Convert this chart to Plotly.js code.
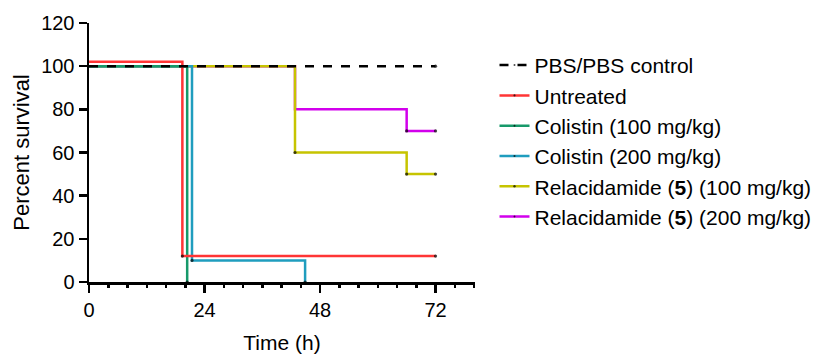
<!DOCTYPE html>
<html>
<head>
<meta charset="utf-8">
<script src="https://cdn.plot.ly/plotly-3.0.1.min.js"></script>
<style>html,body{margin:0;padding:0;background:#fff;}#chart{width:816px;height:354px;}</style>
</head>
<body>
<div id="chart"></div>
<script>
// Series names (legend order)
const seriesNames = [
  "PBS/PBS control",
  "Untreated",
  "Colistin (100 mg/kg)",
  "Colistin (200 mg/kg)",
  "Relacidamide (<b>5</b>) (100 mg/kg)",
  "Relacidamide (<b>5</b>) (200 mg/kg)"
];
// Survival step data: time (h) and percent survival
const pbsTime = [0, 72];
const pbsSurvival = [100, 100];
const untreatedTime = [0, 19.4, 72];
const untreatedSurvival = [102, 12, 12];
const colistin100Time = [0, 20.4];
const colistin100Survival = [100, 0];
const colistin200Time = [0, 21.4, 44.9];
const colistin200Survival = [100, 10, 0];
const rela100Time = [0, 42.8, 66, 72];
const rela100Survival = [100, 60, 50, 50];
const rela200Time = [0, 42.8, 66, 72];
const rela200Survival = [100, 80, 70, 70];
const xTickVals = [0, 24, 48, 72];
const yTickVals = [0, 20, 40, 60, 80, 100, 120];

const colors = ["#000000", "#FF3535", "#17996A", "#1F9DBE", "#C6C400", "#D200EC"];
const series = [
  [pbsTime, pbsSurvival],
  [untreatedTime, untreatedSurvival],
  [colistin100Time, colistin100Survival],
  [colistin200Time, colistin200Survival],
  [rela100Time, rela100Survival],
  [rela200Time, rela200Survival]
];
// symbols hidden beneath another curve's drop line (series index, point index)
const hiddenSymbols = [[5, 1]];

const traces = series.map((s, i) => ({
  type: "scatter",
  mode: "lines+markers",
  x: s[0],
  y: s[1],
  name: seriesNames[i],
  line: {shape: "hv", color: colors[i], width: 2.5, dash: i === 0 ? "dash" : "solid"},
  marker: {
    color: "#000",
    size: s[0].map((v, k) => (k === 0 || hiddenSymbols.some(h => h[0] === i && h[1] === k)) ? 0 : 3.2),
    line: {width: 0}
  },
  cliponaxis: false,
  hoverinfo: "skip"
})).reverse();

const fam = "Liberation Sans, Arial, sans-serif";

const layout = {
  width: 816, height: 354,
  margin: {l: 89, r: 341, t: 23, b: 72},
  paper_bgcolor: "#fff", plot_bgcolor: "#fff",
  font: {family: fam, size: 19, color: "#000"},
  showlegend: true,
  legend: {
    xref: "container", yref: "container",
    x: 0.606, y: 0.873, xanchor: "left", yanchor: "top",
    maxheight: 320,
    traceorder: "reversed",
    font: {family: fam, size: 21, color: "#000"},
    itemwidth: 30,
    bgcolor: "rgba(0,0,0,0)"
  },
  xaxis: {
    range: [0, 80.2],
    tickvals: xTickVals,
    ticktext: xTickVals.map(String),
    ticks: "outside", ticklen: 8, tickwidth: 2.5, tickcolor: "#000",
    showline: true, linewidth: 2.5, linecolor: "#000",
    showgrid: false, zeroline: false,
    minor: {dtick: 4, tick0: 0, ticks: "outside", ticklen: 3.5, tickwidth: 2.5, tickcolor: "#000", showgrid: false},
    tickfont: {family: fam, size: 20, color: "#000"},
    title: {text: "Time (h)", font: {family: fam, size: 21, color: "#000"}, standoff: 20},
    fixedrange: true
  },
  yaxis: {
    range: [0, 120],
    tickvals: yTickVals,
    ticks: "outside", ticklen: 8, tickwidth: 2.5, tickcolor: "#000",
    showline: true, linewidth: 2.5, linecolor: "#000",
    showgrid: false, zeroline: false,
    tickfont: {family: fam, size: 20, color: "#000"},
    title: {text: "Percent survival", font: {family: fam, size: 22, color: "#000"}, standoff: 6},
    fixedrange: true
  }
};

Plotly.newPlot("chart", traces, layout, {displayModeBar: false, staticPlot: true});
</script>
</body>
</html>
